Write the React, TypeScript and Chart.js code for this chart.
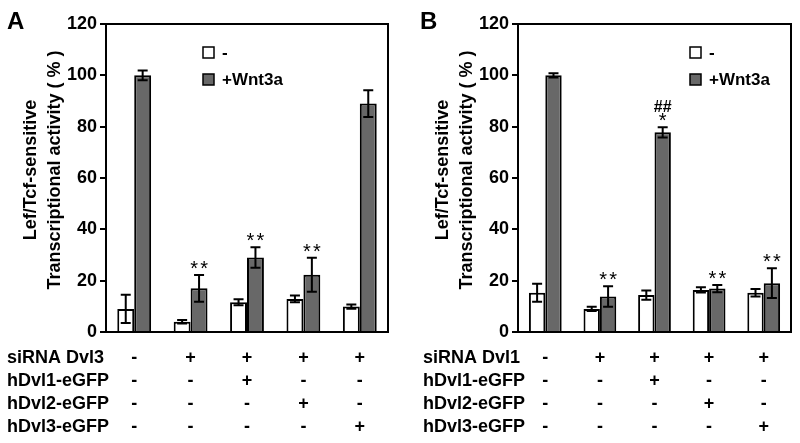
import React, { useEffect, useRef } from "react";
import { Chart, registerables } from "chart.js";

Chart.register(...registerables);

const FONT = "'Liberation Sans', Arial, Helvetica, sans-serif";

// shared
const groups = ["G1", "G2", "G3", "G4", "G5"];
const yTitle = ["Lef/Tcf-sensitive", "Transcriptional activity ( % )"];
const legendLabels = ["-", "+Wnt3a"];
const hDvl1Row = ["-", "-", "+", "-", "-"];
const hDvl2Row = ["-", "-", "-", "+", "-"];
const hDvl3Row = ["-", "-", "-", "-", "+"];
const siRNARow = ["-", "+", "+", "+", "+"];

// panel A
const aMinus = [9, 4, 11.6, 12.9, 9.9];
const aMinusErr = [5.5, 0.7, 1.2, 1.3, 0.8];
const aWnt = [100, 17, 29, 22.3, 89];
const aWntErr = [1.9, 5.2, 4, 6.6, 5.2];
const aStars = ["", "**", "**", "**", ""];
const aHash = ["", "", "", "", ""];
const aRowLabels = ["siRNA Dvl3", "hDvl1-eGFP", "hDvl2-eGFP", "hDvl3-eGFP"];

// panel B
const bMinus = [15.3, 9, 14.4, 16.4, 15.3];
const bMinusErr = [3.5, 0.8, 1.8, 1, 1.5];
const bWnt = [100, 13.8, 77.8, 16.9, 19];
const bWntErr = [0.8, 4, 2, 1.4, 5.8];
const bStars = ["", "**", "*", "**", "**"];
const bHash = ["", "", "##", "", ""];
const bRowLabels = ["siRNA Dvl1", "hDvl1-eGFP", "hDvl2-eGFP", "hDvl3-eGFP"];

const GREY = "#686868";

type PanelCfg = {
  letter: string;
  minus: number[];
  minusErr: number[];
  wnt: number[];
  wntErr: number[];
  stars: string[];
  hash: string[];
  rowLabels: string[];
  axisWidth: number;
  rightPad: number;
  letterX: number;
  titleX: [number, number];
  legendX: number;
  rowLabelX: number;
};

function makeChart(canvas: HTMLCanvasElement, p: PanelCfg) {
  const rows = [siRNARow, hDvl1Row, hDvl2Row, hDvl3Row];
  const rowY = [358, 381, 404, 427];
  const plugin = {
    id: "decor" + p.letter,
    afterDatasetsDraw(chart: any) {
      const ctx = chart.ctx as CanvasRenderingContext2D;
      const ys = chart.scales.y;
      const xs = chart.scales.x;
      const area = chart.chartArea;
      ctx.save();
      // error bars
      const sets = [
        { v: p.minus, e: p.minusErr },
        { v: p.wnt, e: p.wntErr },
      ];
      sets.forEach((s, di) => {
        const meta = chart.getDatasetMeta(di);
        meta.data.forEach((bar: any, i: number) => {
          const x = bar.x;
          const top = ys.getPixelForValue(s.v[i] + s.e[i]);
          const bot = ys.getPixelForValue(s.v[i] - s.e[i]);
          ctx.strokeStyle = "#000";
          ctx.lineWidth = 2;
          ctx.beginPath();
          ctx.moveTo(x, top);
          ctx.lineTo(x, bot);
          ctx.moveTo(x - 5, top);
          ctx.lineTo(x + 5, top);
          ctx.moveTo(x - 5, bot);
          ctx.lineTo(x + 5, bot);
          ctx.stroke();
        });
      });
      // significance marks on Wnt3a bars
      const wMeta = chart.getDatasetMeta(1);
      ctx.fillStyle = "#000";
      ctx.textAlign = "center";
      ctx.textBaseline = "alphabetic";
      wMeta.data.forEach((bar: any, i: number) => {
        const top = ys.getPixelForValue(p.wnt[i] + p.wntErr[i]);
        const st = p.stars[i];
        ctx.font = `20px ${FONT}`;
        if (st.length === 2) {
          ctx.fillText("*", bar.x - 5, top);
          ctx.fillText("*", bar.x + 5, top);
        } else if (st.length === 1) {
          ctx.fillText("*", bar.x, top);
        }
        if (p.hash[i]) {
          ctx.font = `bold 16px ${FONT}`;
          ctx.fillText(p.hash[i], bar.x, top - 15);
        }
      });
      // frame
      ctx.strokeStyle = "#000";
      ctx.lineWidth = 2;
      ctx.strokeRect(area.left, area.top, area.right - area.left, area.bottom - area.top);
      // legend
      const legY = [52, 79];
      legY.forEach((ly, k) => {
        ctx.fillStyle = k === 0 ? "#fff" : GREY;
        ctx.fillRect(p.legendX, ly - 5, 11, 11);
        ctx.lineWidth = 1.5;
        ctx.strokeStyle = "#000";
        ctx.strokeRect(p.legendX, ly - 5, 11, 11);
        ctx.fillStyle = "#000";
        ctx.font = `bold 17px ${FONT}`;
        ctx.textAlign = "left";
        ctx.textBaseline = "middle";
        ctx.fillText(legendLabels[k], p.legendX + 19, ly + 1);
      });
      // panel letter
      ctx.font = `bold 24px ${FONT}`;
      ctx.textAlign = "left";
      ctx.textBaseline = "alphabetic";
      ctx.fillText(p.letter, p.letterX, 29);
      // y title
      yTitle.forEach((t, k) => {
        ctx.save();
        ctx.translate(p.titleX[k], 170);
        ctx.rotate(-Math.PI / 2);
        ctx.font = `bold 18px ${FONT}`;
        ctx.textAlign = "center";
        ctx.textBaseline = "middle";
        ctx.fillText(t, 0, 0);
        ctx.restore();
      });
      // treatment rows
      ctx.font = `bold 18px ${FONT}`;
      ctx.textBaseline = "middle";
      rows.forEach((r, ri) => {
        ctx.textAlign = "left";
        ctx.fillText(p.rowLabels[ri], p.rowLabelX, rowY[ri]);
        ctx.textAlign = "center";
        r.forEach((sym, gi) => {
          ctx.fillText(sym, xs.getPixelForValue(gi), rowY[ri]);
        });
      });
      ctx.restore();
    },
  };

  return new Chart(canvas, {
    type: "bar",
    data: {
      labels: groups,
      datasets: [
        {
          label: legendLabels[0],
          data: p.minus,
          backgroundColor: "#ffffff",
          borderColor: "#000",
          borderWidth: 2,
          categoryPercentage: 0.6,
          barPercentage: 1,
        },
        {
          label: legendLabels[1],
          data: p.wnt,
          backgroundColor: GREY,
          borderColor: "#000",
          borderWidth: 2,
          categoryPercentage: 0.6,
          barPercentage: 1,
        },
      ],
    },
    options: {
      responsive: false,
      animation: false,
      devicePixelRatio: 1,
      layout: { padding: { left: 0, top: 24, right: p.rightPad, bottom: 111 } },
      plugins: { legend: { display: false }, tooltip: { enabled: false } },
      scales: {
        x: { display: false },
        y: {
          min: 0,
          max: 120,
          ticks: {
            stepSize: 20,
            color: "#000",
            padding: 3,
            font: { family: FONT, size: 18, weight: "bold" },
          },
          grid: {
            display: true,
            drawOnChartArea: false,
            drawTicks: true,
            tickLength: 6,
            color: "#000",
            lineWidth: 2,
          },
          border: { display: true, color: "#000", width: 2 },
          afterFit: (scale: any) => {
            scale.width = p.axisWidth;
          },
        },
      },
    } as any,
    plugins: [plugin],
  });
}

const panelA: PanelCfg = {
  letter: "A",
  minus: aMinus,
  minusErr: aMinusErr,
  wnt: aWnt,
  wntErr: aWntErr,
  stars: aStars,
  hash: aHash,
  rowLabels: aRowLabels,
  axisWidth: 106,
  rightPad: 12,
  letterX: 7,
  titleX: [31, 55],
  legendX: 203,
  rowLabelX: 7,
};

const panelB: PanelCfg = {
  letter: "B",
  minus: bMinus,
  minusErr: bMinusErr,
  wnt: bWnt,
  wntErr: bWntErr,
  stars: bStars,
  hash: bHash,
  rowLabels: bRowLabels,
  axisWidth: 118,
  rightPad: 9,
  letterX: 20,
  titleX: [43, 67],
  legendX: 290,
  rowLabelX: 23,
};

function Panel({ cfg }: { cfg: PanelCfg }) {
  const ref = useRef<HTMLCanvasElement>(null);
  useEffect(() => {
    if (!ref.current) return;
    const c = makeChart(ref.current, cfg);
    return () => c.destroy();
  }, [cfg]);
  return <canvas ref={ref} width={400} height={443} style={{ display: "block", width: 400, height: 443 }} />;
}

export default function App() {
  return (
    <div
      style={{
        position: "fixed",
        left: 0,
        top: 0,
        width: 800,
        height: 443,
        background: "#fff",
        display: "flex",
      }}
    >
      <Panel cfg={panelA} />
      <Panel cfg={panelB} />
    </div>
  );
}
